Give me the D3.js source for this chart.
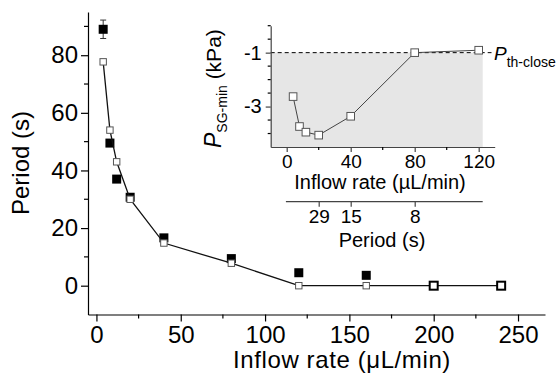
<!DOCTYPE html>
<html>
<head>
<meta charset="utf-8">
<script src="https://cdn.jsdelivr.net/npm/d3@7"></script>
<style>
  body { margin: 0; background: #fff; }
  svg { display: block; font-family: "Liberation Sans", Arial, sans-serif; }
  .axis path, .axis line { stroke: #000; stroke-width: 1.2; }
  .axis text { fill: #000; }
</style>
</head>
<body>
<svg id="chart" width="556" height="376"></svg>
<script>
// main panel: period vs inflow rate
const rates = [4, 8, 12, 20, 40, 80, 120, 160];
const periodMeasured = [89, 49.5, 37, 30.7, 16.6, 9.4, 4.5, 3.6];
const periodError = [3.2, 0, 0, 0, 0, 0, 0, 0];
const modelRates = [4, 8, 12, 20, 40, 80, 120, 160, 200, 240];
const periodModel = [77.7, 54, 43, 30, 14.8, 7.8, 0, 0, 0, 0];
const modelClosed = [false, false, false, false, false, false, false, false, true, true];
const xTicks = [0, 50, 100, 150, 200, 250];
const yTicks = [0, 20, 40, 60, 80];

// inset: minimum sub-glottal pressure
const insetRates = [4, 8, 12, 20, 40, 80, 120];
const pMin = [-2.63, -3.74, -3.95, -4.06, -3.36, -1.0, -0.91];
const pClose = -1;
const insetXTicks = [0, 40, 80, 120];
const insetYTicks = [-1, -3];
const periodTickRates = [20, 40, 80];
const periodTickLabels = ["29", "15", "8"];

const svg = d3.select("#chart");

const x = d3.scaleLinear().domain([-5, 266]).range([88, 545]);
const y = d3.scaleLinear().domain([-10, 95]).range([314.5, 12]);

const mainFont = 24;
const hyphen = d => (d < 0 ? "-" : "") + Math.abs(d);

// axes
const xAxis = svg.append("g").attr("class", "axis")
    .attr("transform", `translate(0,${y(-10)})`)
    .call(d3.axisBottom(x).tickValues(xTicks).tickSize(7).tickPadding(4).tickSizeOuter(0));
xAxis.selectAll("text").style("font-size", mainFont + "px").attr("dy", "0.72em");
xAxis.append("g").selectAll("line")
    .data(d3.range(25, 266, 50))
    .join("line")
    .attr("x1", d => x(d)).attr("x2", d => x(d))
    .attr("y1", 0).attr("y2", 4)
    .attr("stroke", "#000").attr("stroke-width", 1.2);

const yAxis = svg.append("g").attr("class", "axis")
    .attr("transform", `translate(${x(-5)},0)`)
    .call(d3.axisLeft(y).tickValues(yTicks).tickSize(7).tickPadding(3).tickSizeOuter(0));
yAxis.selectAll("text").style("font-size", mainFont + "px");
yAxis.append("g").selectAll("line")
    .data([10, 30, 50, 70, 90])
    .join("line")
    .attr("x1", 0).attr("x2", -4)
    .attr("y1", d => y(d)).attr("y2", d => y(d))
    .attr("stroke", "#000").attr("stroke-width", 1.2);

svg.append("text")
    .attr("x", 342).attr("y", 368)
    .attr("text-anchor", "middle")
    .style("font-size", "24px")
    .style("letter-spacing", "0.6px")
    .text("Inflow rate (μL/min)");

svg.append("text")
    .attr("transform", "translate(29,163) rotate(-90)")
    .attr("text-anchor", "middle")
    .style("font-size", "24px")
    .text("Period (s)");

// measured periods (filled squares with error bars)
rates.forEach((r, i) => {
    if (periodError[i] > 0) {
        const g = svg.append("g").attr("stroke", "#333").attr("stroke-width", 1);
        g.append("line").attr("x1", x(r)).attr("x2", x(r))
            .attr("y1", y(periodMeasured[i] - periodError[i])).attr("y2", y(periodMeasured[i] + periodError[i]));
        [-1, 1].forEach(s => {
            g.append("line").attr("x1", x(r) - 3).attr("x2", x(r) + 3)
                .attr("y1", y(periodMeasured[i] + s * periodError[i]))
                .attr("y2", y(periodMeasured[i] + s * periodError[i]));
        });
    }
});

svg.append("g").selectAll("rect")
    .data(rates.map((r, i) => [r, periodMeasured[i]]))
    .join("rect")
    .attr("x", d => x(d[0]) - 4.5).attr("y", d => y(d[1]) - 4.5)
    .attr("width", 9).attr("height", 9)
    .attr("fill", "#000");

const modelData = modelRates.map((r, i) => ({ r, p: periodModel[i], closed: modelClosed[i] }));

svg.append("path")
    .datum(modelData)
    .attr("fill", "none")
    .attr("stroke", "#111")
    .attr("stroke-width", 1.3)
    .attr("d", d3.line().x(d => x(d.r)).y(d => y(d.p)));

svg.append("g").selectAll("rect")
    .data(modelData)
    .join("rect")
    .attr("x", d => x(d.r) - (d.closed ? 4 : 3.2))
    .attr("y", d => y(d.p) - (d.closed ? 4 : 3.2))
    .attr("width", d => d.closed ? 8 : 6.4)
    .attr("height", d => d.closed ? 8 : 6.4)
    .attr("fill", "#fff")
    .attr("stroke", d => d.closed ? "#000" : "#555")
    .attr("stroke-width", d => d.closed ? 2 : 1);

// ---- inset ----
const xi = d3.scaleLinear().domain([-10, 130]).range([270.7, 494.7]);
const yi = d3.scaleLinear().domain([-4.5, 0]).range([147, 25.7]);
const insetFont = 19;

svg.append("rect")
    .attr("x", xi(-10)).attr("y", yi(pClose))
    .attr("width", xi(122.5) - xi(-10))
    .attr("height", yi(-4.5) - yi(pClose))
    .attr("fill", "#e6e6e6");

svg.append("line")
    .attr("x1", xi(-10)).attr("x2", xi(128))
    .attr("y1", yi(pClose)).attr("y2", yi(pClose))
    .attr("stroke", "#000").attr("stroke-width", 1)
    .attr("stroke-dasharray", "4,3");

const xiAxis = svg.append("g").attr("class", "axis")
    .attr("transform", `translate(0,${yi(-4.5)})`)
    .call(d3.axisBottom(xi).tickValues(insetXTicks).tickSize(5).tickPadding(2).tickSizeOuter(0));
xiAxis.selectAll("text").style("font-size", insetFont + "px").attr("dy", "0.74em");
xiAxis.selectAll("path, line").style("stroke", "#444");
xiAxis.append("g").selectAll("line")
    .data([20, 60, 100])
    .join("line")
    .attr("x1", d => xi(d)).attr("x2", d => xi(d))
    .attr("y1", 0).attr("y2", 3)
    .attr("stroke", "#444");

const yiAxis = svg.append("g").attr("class", "axis")
    .attr("transform", `translate(${xi(-10)},0)`)
    .call(d3.axisLeft(yi).tickValues(insetYTicks).tickFormat(hyphen)
        .tickSize(5).tickPadding(4).tickSizeOuter(0));
yiAxis.selectAll("text").style("font-size", "20px");
yiAxis.selectAll("path, line").style("stroke", "#444");
yiAxis.append("g").selectAll("line")
    .data([0, -0.5, -1.5, -2, -2.5, -3.5, -4])
    .join("line")
    .attr("x1", 0).attr("x2", -3)
    .attr("y1", d => yi(d)).attr("y2", d => yi(d))
    .attr("stroke", "#444");

svg.append("text")
    .attr("x", 380).attr("y", 189)
    .attr("text-anchor", "middle")
    .style("font-size", "20px")
    .text("Inflow rate (µL/min)");

// secondary period axis under inset
const periodAxis = svg.append("g").attr("class", "axis")
    .attr("transform", "translate(0,201.7)")
    .call(d3.axisBottom(xi).tickValues(periodTickRates).tickFormat((d, i) => periodTickLabels[i])
        .tickSize(5).tickPadding(2).tickSizeOuter(0));
periodAxis.select("path").attr("d", `M${xi(-0.5)},0H${xi(122.5)}`).style("stroke", "#444");
periodAxis.selectAll("line").style("stroke", "#444");
periodAxis.selectAll("text").style("font-size", insetFont + "px").attr("dy", "0.74em");

svg.append("text")
    .attr("x", 382).attr("y", 247)
    .attr("text-anchor", "middle")
    .style("font-size", "20px")
    .text("Period (s)");

const yLab = svg.append("text")
    .attr("transform", "translate(221,148) rotate(-90)")
    .attr("text-anchor", "start");
yLab.append("tspan").style("font-size", "23px").style("font-style", "italic").text("P");
yLab.append("tspan").style("font-size", "14px").attr("dy", 6).text("SG-min");
yLab.append("tspan").style("font-size", "21px").attr("dy", -6).text(" (kPa)");

const thLab = svg.append("text").attr("x", 494).attr("y", 59.5);
thLab.append("tspan").style("font-size", "19px").style("font-style", "italic").text("P");
thLab.append("tspan").style("font-size", "14px").attr("dy", 7).text("th-close");

svg.append("path")
    .datum(insetRates.map((r, i) => [r, pMin[i]]))
    .attr("fill", "none")
    .attr("stroke", "#444")
    .attr("stroke-width", 1)
    .attr("d", d3.line().x(d => xi(d[0])).y(d => yi(d[1])));

svg.append("g").selectAll("rect")
    .data(insetRates.map((r, i) => [r, pMin[i]]))
    .join("rect")
    .attr("x", d => xi(d[0]) - 3.8).attr("y", d => yi(d[1]) - 3.8)
    .attr("width", 7.6).attr("height", 7.6)
    .attr("fill", "#fff")
    .attr("stroke", "#555")
    .attr("stroke-width", 1);
</script>
</body>
</html>
